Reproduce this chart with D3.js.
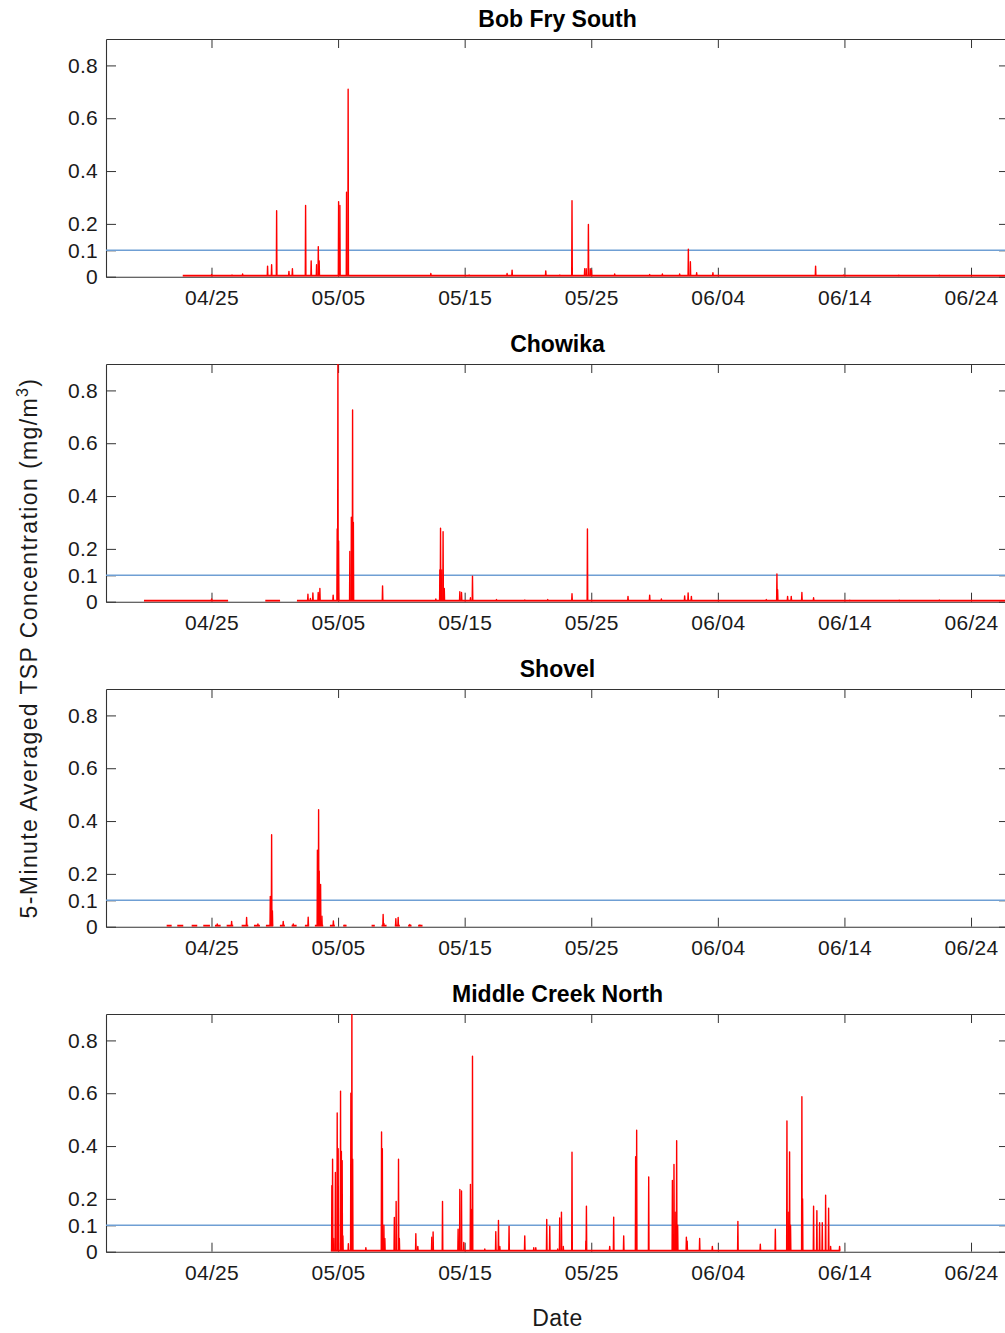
<!DOCTYPE html>
<html>
<head>
<meta charset="utf-8">
<script src="https://cdn.jsdelivr.net/npm/d3@7"></script>
<style>
  body { margin: 0; background: #fff; }
  svg { display: block; font-family: "Liberation Sans", Arial, Helvetica, sans-serif; }
</style>
</head>
<body>
<div id="container"></div>
<script>
// axis setup
const yTicks = [0, 0.1, 0.2, 0.4, 0.6, 0.8];
const xTickLabels = ['04/25', '05/05', '05/15', '05/25', '06/04', '06/14', '06/24'];
const xStart = '04/16 16:00';
const xEnd = '06/27 00:00';
const limitValue = 0.1;

// Bob Fry South
const bobFryRuns = [['04/22 17:30', '06/27 00:00']];
const bobFryTimes = ['04/25 00:15', '04/26 14:50', '04/27 11:00', '04/29 10:20', '04/29 18:00', '04/30 03:30',
  '05/01 02:50', '05/01 09:25', '05/02 10:25', '05/02 21:00', '05/03 07:15', '05/03 10:30', '05/03 12:10',
  '05/05 01:00', '05/05 03:25', '05/05 16:05', '05/05 19:05', '05/12 07:50', '05/15 08:25', '05/18 08:25',
  '05/18 17:55', '05/21 09:45', '05/22 12:15', '05/23 11:30', '05/24 11:35', '05/24 14:25', '05/24 18:35',
  '05/24 22:00', '05/25 00:20', '05/26 20:25', '05/29 14:45', '05/30 14:50', '05/31 23:35', '06/01 16:05',
  '06/01 19:55', '06/02 07:50', '06/03 14:40', '06/11 17:20', '06/13 22:20', '06/18 07:00', '06/21 12:00'];
const bobFryValues = [0.008, 0.006, 0.01, 0.04, 0.045, 0.25,
  0.02, 0.03, 0.27, 0.06, 0.045, 0.114, 0.06,
  0.284, 0.27, 0.32, 0.71, 0.012, 0.006, 0.012,
  0.025, 0.022, 0.006, 0.288, 0.03, 0.03, 0.198,
  0.03, 0.025, 0.01, 0.008, 0.01, 0.01, 0.104,
  0.057, 0.015, 0.015, 0.04, 0.006, 0.005, 0.005];

// Chowika
const chowikaRuns = [['04/19 16:00', '04/26 07:30'], ['04/29 06:00', '04/30 10:00'], ['05/01 18:00', '06/27 00:00']];
const chowikaTimes = ['04/25 00:15', '05/02 14:50', '05/02 19:30', '05/03 00:15', '05/03 10:20', '05/03 13:30',
  '05/04 14:40', '05/04 22:20', '05/04 23:40', '05/05 01:00', '05/05 22:20', '05/06 01:10', '05/06 03:30',
  '05/06 05:00', '05/08 12:20', '05/12 17:20', '05/13 01:00', '05/13 02:15', '05/13 04:40', '05/13 07:05',
  '05/13 09:20', '05/14 14:50', '05/14 18:00', '05/15 11:00', '05/15 14:50', '05/17 12:20', '05/19 17:55',
  '05/21 13:30', '05/23 11:30', '05/24 16:45', '05/27 21:40', '05/29 14:45', '05/30 12:55', '06/01 09:05',
  '06/01 15:40', '06/01 21:50', '06/07 19:55', '06/08 16:00', '06/08 17:20', '06/09 12:15', '06/09 19:10',
  '06/10 15:20', '06/11 13:30', '06/14 10:00', '06/18 08:00', '06/21 12:00'];
const chowikaValues = [0.01, 0.028, 0.012, 0.033, 0.035, 0.05,
  0.025, 0.275, 0.95, 0.23, 0.19, 0.32, 0.726,
  0.3, 0.06, 0.01, 0.12, 0.278, 0.12, 0.265,
  0.05, 0.038, 0.035, 0.015, 0.097, 0.008, 0.006,
  0.008, 0.03, 0.275, 0.02, 0.025, 0.01, 0.022,
  0.033, 0.02, 0.008, 0.105, 0.045, 0.02, 0.02,
  0.035, 0.015, 0.005, 0.005, 0.006];

// Shovel
const shovelRuns = [['04/21 11:00', '04/21 20:30'], ['04/22 07:05', '04/22 18:30'], ['04/23 10:25', '04/23 21:00'],
  ['04/24 08:25', '04/24 21:05'], ['04/25 06:35', '04/25 17:25'], ['04/26 04:45', '04/26 17:15'],
  ['04/27 09:10', '04/27 21:40'], ['04/28 08:30', '04/28 19:50'], ['04/29 07:10', '04/29 21:00'],
  ['04/30 09:40', '04/30 19:10'], ['05/01 07:55', '05/01 17:25'], ['05/02 09:05', '05/02 17:10'],
  ['05/03 04:00', '05/03 19:50'], ['05/04 08:30', '05/04 17:55'], ['05/05 09:40', '05/05 16:05'],
  ['05/07 15:30', '05/07 21:40'], ['05/08 10:25', '05/08 19:55'], ['05/09 11:35', '05/09 21:05'],
  ['05/10 12:50', '05/10 19:15'], ['05/11 07:45', '05/11 16:05']];
const shovelTimes = ['04/25 10:55', '04/26 14:10', '04/27 18:35', '04/28 16:00', '04/29 15:30', '04/29 18:00',
  '04/29 19:30', '04/30 16:00', '05/01 11:00', '05/02 15:20', '05/03 08:50', '05/03 11:05', '05/03 12:10',
  '05/03 14:50', '05/03 17:20', '05/04 15:05', '05/05 12:55', '05/08 13:25', '05/08 14:45', '05/09 13:30',
  '05/09 17:55', '05/10 16:00', '05/11 11:00'];
const shovelValues = [0.01, 0.02, 0.035, 0.01, 0.115, 0.348,
  0.06, 0.02, 0.01, 0.036, 0.29, 0.443, 0.21,
  0.16, 0.04, 0.022, 0.005, 0.046, 0.012, 0.03,
  0.035, 0.008, 0.006];

// Middle Creek North
const middleCreekRuns = [['05/04 10:20', '06/13 16:05']];
const middleCreekTimes = ['05/04 12:15', '05/04 13:35', '05/04 16:00', '05/04 18:55', '05/04 22:20', '05/05 00:10',
  '05/05 04:40', '05/05 06:15', '05/05 07:45', '05/05 09:05', '05/05 19:30', '05/06 00:15', '05/06 02:10',
  '05/06 03:40', '05/07 04:40', '05/08 10:25', '05/08 11:55', '05/08 14:50', '05/08 16:40', '05/09 10:40',
  '05/09 14:05', '05/09 18:35', '05/09 20:10', '05/11 03:25', '05/11 07:10', '05/12 09:40', '05/12 12:10',
  '05/13 06:00', '05/14 11:35', '05/14 14:50', '05/14 18:00', '05/14 22:20', '05/15 11:00', '05/15 12:55',
  '05/15 14:50', '05/16 14:10', '05/17 11:00', '05/17 16:05', '05/17 18:35', '05/18 12:10', '05/19 17:55',
  '05/20 11:00', '05/20 14:50', '05/21 11:35', '05/21 17:20', '05/22 08:30', '05/22 12:10', '05/22 15:30',
  '05/22 18:55', '05/23 11:30', '05/24 14:00', '05/24 14:50', '05/26 11:00', '05/26 18:30', '05/27 13:30',
  '05/28 12:10', '05/28 14:05', '05/29 12:55', '05/31 09:50', '05/31 12:50', '05/31 15:05', '05/31 17:55',
  '05/31 19:50', '06/01 12:20', '06/01 13:50', '06/02 13:30', '06/03 13:35', '06/05 14:00', '06/07 08:30',
  '06/08 13:00', '06/09 11:00', '06/09 13:20', '06/09 16:00', '06/09 17:50', '06/10 15:20', '06/10 16:40',
  '06/11 13:30', '06/11 19:45', '06/12 00:55', '06/12 06:00', '06/12 12:20', '06/12 18:00', '06/12 21:45',
  '06/13 14:50'];
const middleCreekValues = [0.25, 0.35, 0.05, 0.3, 0.525, 0.39,
  0.608, 0.38, 0.345, 0.06, 0.03, 0.6, 0.95,
  0.35, 0.015, 0.453, 0.39, 0.1, 0.05, 0.13,
  0.19, 0.35, 0.05, 0.068, 0.02, 0.055, 0.075,
  0.19, 0.085, 0.236, 0.23, 0.035, 0.255, 0.16,
  0.74, 0.01, 0.076, 0.118, 0.02, 0.097, 0.06,
  0.015, 0.015, 0.122, 0.097, 0.01, 0.128, 0.15,
  0.02, 0.377, 0.04, 0.172, 0.02, 0.131, 0.06,
  0.36, 0.46, 0.283, 0.27, 0.33, 0.15, 0.42,
  0.1, 0.055, 0.04, 0.05, 0.02, 0.115, 0.028,
  0.085, 0.495, 0.15, 0.378, 0.1, 0.587, 0.2,
  0.172, 0.155, 0.11, 0.11, 0.214, 0.165, 0.02,
  0.02];

const sites = [
  { name: 'Bob Fry South', runs: bobFryRuns, times: bobFryTimes, values: bobFryValues },
  { name: 'Chowika', runs: chowikaRuns, times: chowikaTimes, values: chowikaValues },
  { name: 'Shovel', runs: shovelRuns, times: shovelTimes, values: shovelValues },
  { name: 'Middle Creek North', runs: middleCreekRuns, times: middleCreekTimes, values: middleCreekValues },
];

const width = 1005;
const height = 1333;
const margin = { left: 106, right: 1009, top: 39 };
const panelHeight = 237.7;
const panelStep = 325;
const baseValue = 0.004;
const halfSpike = 35 * 60 * 1000;
const axisColor = '#333';

const parseTime = d3.utcParse('%m/%d %H:%M');
const parseDay = d3.utcParse('%m/%d');

const x = d3.scaleUtc()
  .domain([parseTime(xStart), parseTime(xEnd)])
  .range([margin.left, margin.right]);

const svg = d3.select('#container')
  .append('svg')
  .attr('width', width)
  .attr('height', height);

const tickDates = xTickLabels.map(parseDay);

sites.forEach((site, i) => {
  const top = margin.top + i * panelStep;
  const bottom = top + panelHeight;
  const y = d3.scaleLinear().domain([0, 0.9]).range([bottom, top]);

  const g = svg.append('g').attr('class', 'panel');

  g.append('clipPath')
    .attr('id', `clip${i}`)
    .append('rect')
    .attr('x', margin.left)
    .attr('y', top)
    .attr('width', margin.right - margin.left)
    .attr('height', panelHeight);

  // axes (ticks pointing inward)
  const bottomAxis = d3.axisBottom(x)
    .tickValues(tickDates)
    .tickFormat(d3.utcFormat('%m/%d'))
    .tickSizeInner(-9)
    .tickSizeOuter(0)
    .tickPadding(13);
  const topAxis = d3.axisTop(x).tickValues(tickDates).tickFormat('').tickSizeInner(-9).tickSizeOuter(0);
  const leftAxis = d3.axisLeft(y)
    .tickValues(yTicks)
    .tickFormat(d => (d === 0 ? '0' : d3.format('.1f')(d)))
    .tickSizeInner(-10)
    .tickSizeOuter(0)
    .tickPadding(8);
  const rightAxis = d3.axisRight(y).tickValues(yTicks).tickFormat('').tickSizeInner(-10).tickSizeOuter(0);

  const axes = [
    [bottomAxis, `translate(0,${bottom})`],
    [topAxis, `translate(0,${top})`],
    [leftAxis, `translate(${margin.left},0)`],
    [rightAxis, `translate(${margin.right},0)`],
  ];
  axes.forEach(([ax, tr]) => {
    const a = g.append('g').attr('transform', tr).call(ax);
    a.select('.domain').attr('stroke', axisColor).attr('stroke-width', 1.1);
    a.selectAll('.tick line').attr('stroke', axisColor).attr('stroke-width', 1);
    a.selectAll('.tick text')
      .attr('fill', '#1a1a1a')
      .style('font-size', '21px')
      .style('letter-spacing', '0.3px');
  });

  // 0.1 mg/m3 reference line
  g.append('line')
    .attr('x1', margin.left)
    .attr('x2', margin.right)
    .attr('y1', y(limitValue))
    .attr('y2', y(limitValue))
    .attr('stroke', '#6f9fd4')
    .attr('stroke-width', 1.4);

  // data
  const line = d3.line()
    .x(d => x(d.t))
    .y(d => y(d.v));

  const plot = g.append('g').attr('clip-path', `url(#clip${i})`);

  const runs = site.runs.map(([s, e]) => [
    { t: parseTime(s), v: baseValue },
    { t: parseTime(e), v: baseValue },
  ]);
  plot.selectAll('path.run')
    .data(runs)
    .enter()
    .append('path')
    .attr('class', 'run')
    .attr('d', line)
    .attr('fill', 'none')
    .attr('stroke', '#ff0000')
    .attr('stroke-width', 2);

  const spikes = site.times.map((t, k) => {
    const tt = parseTime(t);
    return [
      { t: new Date(+tt - halfSpike), v: baseValue },
      { t: tt, v: site.values[k] },
      { t: new Date(+tt + halfSpike), v: baseValue },
    ];
  });
  plot.selectAll('path.spike')
    .data(spikes)
    .enter()
    .append('path')
    .attr('class', 'spike')
    .attr('d', line)
    .attr('fill', 'none')
    .attr('stroke', '#ff0000')
    .attr('stroke-width', 1.4)
    .attr('stroke-linejoin', 'round');

  // panel title
  g.append('text')
    .attr('x', (margin.left + margin.right) / 2)
    .attr('y', top - 12.5)
    .attr('text-anchor', 'middle')
    .style('font-size', '23px')
    .style('font-weight', 'bold')
    .attr('fill', '#000')
    .text(site.name);
});

// y label
const yLabel = svg.append('text')
  .attr('transform', `translate(37,${648}) rotate(-90)`)
  .attr('text-anchor', 'middle')
  .style('font-size', '23px')
  .style('letter-spacing', '1.4px')
  .attr('fill', '#1a1a1a');
yLabel.append('tspan').text('5-Minute Averaged TSP Concentration (mg/m');
yLabel.append('tspan').attr('dy', -9).style('font-size', '16px').text('3');
yLabel.append('tspan').attr('dy', 9).text(')');

// x label
svg.append('text')
  .attr('x', (margin.left + margin.right) / 2)
  .attr('y', 1326)
  .attr('text-anchor', 'middle')
  .style('font-size', '23px')
  .style('letter-spacing', '0.5px')
  .attr('fill', '#1a1a1a')
  .text('Date');
</script>
</body>
</html>
